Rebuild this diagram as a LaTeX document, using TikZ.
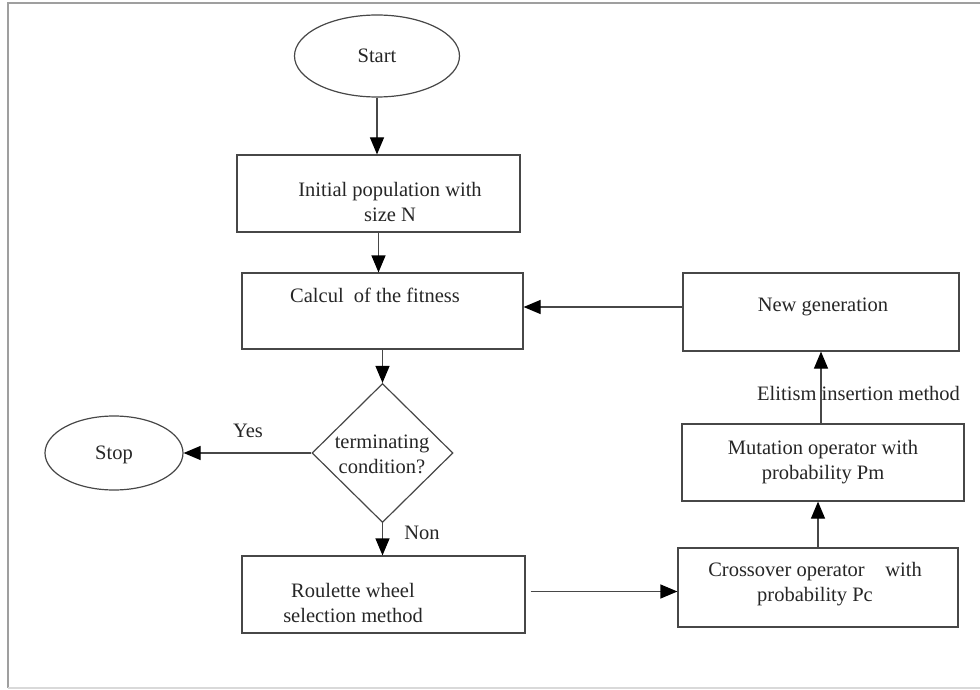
\documentclass[tikz,border=0pt]{standalone}
\usepackage{fontspec}
\setmainfont{Liberation Serif}
\usetikzlibrary{shapes.geometric,arrows.meta}
\begin{document}
\begin{tikzpicture}[x=1pt,y=-1pt,
  lc/.style={draw=black!72,line width=1.2pt},
  box/.style={lc,rectangle,inner sep=0pt},
  oval/.style={lc,ellipse,inner sep=0pt},
  txt/.style={text=black!85,font=\fontsize{20.5}{25}\selectfont,align=center,inner sep=0pt},
  arr/.style={draw=black!72,line width=1.2pt,-{Triangle[length=17pt,width=14pt,color=black]}},
  lbl/.style={text=black!85,font=\fontsize{20.5}{25}\selectfont,inner sep=0pt}]
\useasboundingbox (0,0) rectangle (980,690);
% frame
\draw[gray!75,line width=1.6pt] (980,3) -- (8,3) -- (8,688);
\draw[gray!30,line width=1.2pt] (8,688) -- (980,688);
% shapes
\node[oval,minimum width=165pt,minimum height=82pt] (start) at (377,56) {};
\node[txt] (startT) at (377,56) {Start};
\node[box,minimum width=283pt,minimum height=77pt] (init) at (378.5,193.5) {};
\node[txt] (initT) at (390,202) {Initial population with\\size N};
\node[box,minimum width=281pt,minimum height=76pt] (calc) at (382.5,311) {};
\node[txt] (calcT) at (375,295) {Calcul\ \ of the fitness};
\node[box,minimum width=276pt,minimum height=78pt] (newg) at (821,312) {};
\node[txt] (newgT) at (823,307) {New generation};
\node[lc,diamond,inner sep=0pt,minimum width=141pt,minimum height=139pt] (dec) at (382.5,453) {};
\node[txt] (decT) at (382,454) {terminating\\condition?};
\node[oval,minimum width=138pt,minimum height=74pt] (stop) at (114,453) {};
\node[txt] (stopT) at (114,455) {Stop};
\node[box,minimum width=283pt,minimum height=77pt] (roul) at (383.5,594.5) {};
\node[txt] (roulT) at (353,603) {Roulette wheel\\selection method};
\node[box,minimum width=280pt,minimum height=79pt] (cross) at (818,587.5) {};
\node[txt] (crossT) at (815,584) {Crossover operator\ \ \ \ with\\probability Pc};
\node[box,minimum width=282pt,minimum height=77pt] (mut) at (823,462.5) {};
\node[txt] (mutT) at (823,462) {Mutation operator with\\probability Pm};
% labels
\node[lbl] (yes) at (248,431) {Yes};
\node[lbl] (non) at (422,533) {Non};
\node[lbl,anchor=west] (elit) at (757,393) {Elitism insertion method};
% connectors
\coordinate (rs) at ([xshift=5pt,yshift=3pt]roul.east);
\coordinate (nw) at ([yshift=5pt]newg.west);
\draw[arr] (start.south) -- (start.south |- init.north);
\draw[arr] (init.south) -- (init.south |- calc.north);
\draw[arr] (dec.north |- calc.south) -- (dec.north);
\draw[arr] (dec.west) -- (stop.east);
\draw[arr] (dec.south) -- (dec.south |- roul.north);
\draw[arr] (rs) -- (rs -| cross.west);
\draw[arr] (cross.north) -- (cross.north |- mut.south);
\draw[arr] (newg.south |- mut.north) -- (newg.south);
\draw[arr] (nw) -- (nw -| calc.east);
\end{tikzpicture}
\end{document}
